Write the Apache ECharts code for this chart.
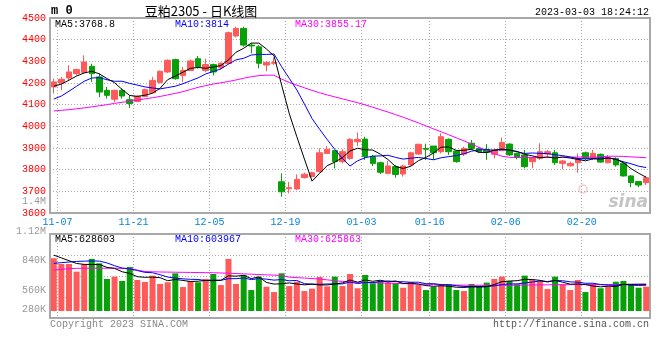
<!DOCTYPE html>
<html><head><meta charset="utf-8">
<script src="https://cdn.jsdelivr.net/npm/echarts@6/dist/echarts.min.js"></script>
<style>html,body{margin:0;padding:0;background:#fff}#c{width:660px;height:360px}</style>
</head><body><div id="c"></div>
<script>
// ---------- data ----------
const dates = [
 '11-07','11-08','11-09','11-10','11-11','11-14','11-15','11-16','11-17','11-18',
 '11-21','11-22','11-23','11-24','11-25','11-28','11-29','11-30','12-01','12-02',
 '12-05','12-06','12-07','12-08','12-09','12-12','12-13','12-14','12-15','12-16',
 '12-19','12-20','12-21','12-22','12-23','12-26','12-27','12-28','12-29','12-30',
 '01-03','01-04','01-05','01-06','01-09','01-10','01-11','01-12','01-13',
 '01-16','01-17','01-18','01-19','01-20','01-30','01-31','02-01','02-02','02-03',
 '02-06','02-07','02-08','02-09','02-10','02-13','02-14','02-15','02-16','02-17',
 '02-20','02-21','02-22','02-23','02-24','02-27','02-28','03-01','03-02','03-03'];
const opens = [
 4182,4200,4223,4243,4248,4277,4228,4166,4125,4166,
 4123,4115,4138,4155,4203,4251,4308,4235,4258,4312,
 4258,4285,4271,4290,4417,4452,4375,4367,4283,4291,
 3744,3712,3711,3763,3768,3791,3875,3888,3837,3852,
 3929,3941,3860,3832,3783,3814,3780,3822,3872,
 3898,3909,3883,3940,3886,3872,3922,3898,3894,3871,
 3888,3918,3875,3868,3837,3852,3872,3878,3829,3818,
 3832,3878,3852,3871,3832,3852,3829,3771,3745,3740];
const closes = [
 4205,4217,4251,4262,4297,4243,4158,4143,4166,4140,
 4105,4138,4169,4212,4254,4305,4220,4258,4302,4274,
 4285,4251,4291,4432,4452,4375,4371,4291,4295,4295,
 3698,3717,3755,3779,3786,3878,3894,3837,3883,3940,
 3940,3860,3829,3788,3817,3778,3817,3878,3917,
 3894,3878,3952,3883,3837,3898,3898,3883,3880,3891,
 3925,3868,3857,3814,3855,3883,3883,3832,3840,3829,
 3852,3852,3875,3835,3857,3822,3771,3740,3729,3763];
const lows = [
 4151,4166,4212,4235,4243,4205,4135,4128,4112,4128,
 4085,4112,4135,4151,4198,4246,4215,4205,4255,4266,
 4251,4235,4262,4286,4410,4368,4337,4268,4254,4283,
 3675,3691,3706,3760,3765,3786,3875,3806,3829,3845,
 3909,3845,3817,3780,3778,3763,3768,3817,3868,
 3845,3845,3875,3868,3832,3863,3891,3878,3845,3852,
 3888,3863,3848,3806,3806,3845,3857,3822,3802,3814,
 3786,3845,3845,3832,3829,3814,3768,3719,3719,3729];
const highs = [
 4220,4228,4282,4266,4328,4289,4243,4182,4169,4174,
 4143,4143,4174,4228,4258,4308,4312,4274,4308,4325,
 4312,4289,4296,4437,4460,4460,4383,4375,4300,4318,
 3783,3744,3778,3786,3791,3898,3909,3891,3894,3945,
 3971,3952,3868,3837,3841,3822,3822,3883,3920,
 3920,3909,3968,3945,3891,3906,3937,3903,3918,3898,
 3948,3922,3878,3891,3860,3922,3891,3891,3845,3837,
 3875,3883,3891,3875,3868,3857,3837,3775,3748,3771];
// moving-average values visible at the left edge (earlier data is off chart)
const ma5Head = [4185, 4195, 4213, 4232];
const ma10Head = [4126, 4140, 4162, 4185, 4208, 4223, 4225, 4215, 4208];
const ma30 = [
 4071,4074,4077,4081,4085,4090,4095,4100,4106,4111,
 4116,4121,4127,4132,4138,4145,4152,4160,4170,4180,
 4188,4195,4201,4207,4214,4222,4229,4234,4236,4236,
 4218,4203,4190,4178,4166,4155,4145,4136,4127,4118,
 4109,4099,4088,4077,4066,4054,4042,4029,4016,4002,
 3988,3975,3961,3947,3933,3918,3903,3888,3874,3862,
 3857,3856,3856,3856,3857,3857,3857,3857,3858,3858,
 3858,3858,3859,3862,3862,3861,3859,3857,3855];
// volume in thousands of lots
const volumes = [
 862,810,810,741,810,856,816,675,696,657,
 783,666,648,705,630,645,726,602,657,645,
 675,720,620,856,630,711,575,696,605,557,
 726,611,650,566,587,693,608,696,611,720,
 591,711,636,660,642,636,596,648,620,575,
 605,620,627,575,566,630,611,642,675,696,
 657,627,705,666,657,584,696,627,575,666,
 557,630,591,605,650,657,630,596,605];
const volMa5Head = [890, 865, 840, 815];
const volMa10Head = [816, 822, 828, 833, 836, 838, 836, 820, 795];
const volMa30 = [
 756,762,768,771,772,772,772,772,772,771,
 770,755,742,740,738,737,736,735,734,733,
 732,731,729,727,724,721,718,715,712,710,
 706,692,687,683,679,674,667,659,653,648,
 645,643,641,639,637,635,633,631,629,627,
 625,623,621,620,619,618,618,618,618,618,
 618,619,620,621,622,622,623,623,624,624,
 624,624,624,625,625,625,625,626,626];
const xTickLabels = ['11-07','11-21','12-05','12-19','01-03','01-16','02-06','02-20'];
const priceMin = 3600, priceMax = 4500, priceStep = 100;
const volTickLabels = ['1.12M', '840K', '560K', '280K'];
const volTopLabel = '1.4M';
const priceLegend = ['MA5:3768.8', 'MA10:3814', 'MA30:3855.17'];
const volLegend = ['MA5:628603', 'MA10:603967', 'MA30:625863'];
const symbolText = 'm 0';
const titleText = '豆粕2305 - 日K线图';
const stampText = '2023-03-03 18:24:12';
const copyText = 'Copyright 2023 SINA.COM';
const urlText = 'http://finance.sina.com.cn';

// ---------- build ----------
const RED = '#ff5a5a', GREEN = '#08a008';
const MA_COLORS = ['#000000', '#0000ff', '#ff00ff'];
const MONO = '"Liberation Mono", "DejaVu Sans Mono", monospace';
const GRIDC = '#aaaaaa';

function movingAvg(values, n, head) {
  return values.map(function (v, i) {
    if (i < n - 1) return head[i];
    let s = 0;
    for (let k = i - n + 1; k <= i; k++) s += values[k];
    return +(s / n).toFixed(2);
  });
}
const boundaries = [''].concat(dates); // slot boundaries: boundary k = right edge of candle k-1
const isTick = function (idx) { return xTickLabels.indexOf(boundaries[idx]) >= 0; };

const candleData = dates.map(function (d, i) { return [opens[i], closes[i], lows[i], highs[i]]; });
const volData = volumes.map(function (v, i) {
  return { value: v, itemStyle: { color: closes[i] >= opens[i] ? RED : GREEN } };
});

function lineSeries(data, color, xi, yi) {
  return { type: 'line', data: data, xAxisIndex: xi, yAxisIndex: yi, symbol: 'none', showSymbol: false,
    silent: true, lineStyle: { width: 1, color: color }, z: 5 };
}
function txt(text, x, y, color, align, font, extra) {
  return Object.assign({ type: 'text', x: x, y: y, silent: true, z: 100,
    style: { text: text, fill: color, font: font || ('10px ' + MONO),
      align: align || 'left', verticalAlign: 'middle', textAlign: align || 'left', textVerticalAlign: 'middle' } }, extra || {});
}

const dotted = { show: true, lineStyle: { color: GRIDC, width: 1, type: [1, 2] } };

const graphics = [
  { type: 'circle', shape: { cx: 583, cy: 189, r: 4 }, style: { fill: 'none', stroke: '#f6cccc', lineWidth: 1.5 }, z: 0, silent: true },
  txt('sina', 648, 203, '#c4c4c4', 'right', 'italic bold 17px "DejaVu Sans", sans-serif', { z: 0 }),
  txt(symbolText, 51, 11, '#000', 'left', 'bold 12px ' + MONO),
  txt(titleText, 201, 11, '#000', 'center', '13px "Noto Sans CJK SC", sans-serif'),
  txt(stampText, 649, 12, '#000', 'right'),
  txt(priceLegend[0], 55, 24, MA_COLORS[0]),
  txt(priceLegend[1], 175, 24, MA_COLORS[1]),
  txt(priceLegend[2], 295, 24, MA_COLORS[2]),
  txt(volLegend[0], 55, 239, MA_COLORS[0]),
  txt(volLegend[1], 175, 239, MA_COLORS[1]),
  txt(volLegend[2], 295, 239, MA_COLORS[2]),
  txt(volTopLabel, 46, 201, '#999', 'right'),
  txt(volTickLabels[0], 46, 231, '#999', 'right'),
  txt(volTickLabels[1], 46, 260, '#999', 'right'),
  txt(volTickLabels[2], 46, 290, '#999', 'right'),
  txt(volTickLabels[3], 46, 309.5, '#999', 'right'),
  txt(copyText, 50, 324, '#888', 'left'),
  txt(urlText, 649, 324, '#555', 'right')
];

const option = {
  animation: false,
  backgroundColor: '#fff',
  grid: [
    { left: 50, right: 10, top: 18, height: 195, show: true, borderColor: '#a8a8a8', borderWidth: 2, outerBoundsMode: 'none', containLabel: false },
    { left: 50, right: 10, top: 234, height: 77, show: false, outerBoundsMode: 'none', containLabel: false },
    { left: 50, right: 10, top: 234, height: 84, show: true, borderColor: '#a8a8a8', borderWidth: 2, outerBoundsMode: 'none', containLabel: false }
  ],
  xAxis: [
    { type: 'category', gridIndex: 0, data: dates, boundaryGap: true, show: false, position: 'bottom' },
    { type: 'category', gridIndex: 0, data: boundaries, boundaryGap: false, min: 0, max: boundaries.length - 1,
      position: 'bottom',
      axisLine: { show: false }, axisTick: { show: false },
      axisLabel: { show: true, interval: isTick, color: '#0a84d8', fontFamily: MONO, fontSize: 10, margin: 4 },
      splitLine: { show: true, interval: isTick, lineStyle: dotted.lineStyle } },
    { type: 'category', gridIndex: 1, data: dates, boundaryGap: true, show: false, position: 'bottom' },
    { type: 'category', gridIndex: 2, data: boundaries, boundaryGap: false, min: 0, max: boundaries.length - 1,
      position: 'bottom',
      axisLine: { show: false }, axisTick: { show: false }, axisLabel: { show: false },
      splitLine: { show: true, interval: isTick, lineStyle: dotted.lineStyle } }
  ],
  yAxis: [
    { type: 'value', gridIndex: 0, min: priceMin, max: priceMax, interval: priceStep,
      axisLine: { show: false }, axisTick: { show: false },
      axisLabel: { color: '#ff0000', fontFamily: MONO, fontSize: 10, margin: 4, padding: [0, 0, 3, 0],
        formatter: function (v) { return String(v); } },
      splitLine: dotted },
    { type: 'value', gridIndex: 1, min: 385.7, max: 1081, show: false, splitLine: { show: false } },
    { type: 'value', gridIndex: 2, min: 0, max: 4, interval: 1, axisLine: { show: false }, axisTick: { show: false },
      axisLabel: { show: false }, splitLine: dotted }
  ],
  graphic: graphics,
  series: [
    { type: 'candlestick', xAxisIndex: 0, yAxisIndex: 0, data: candleData, barWidth: 6, silent: true,
      itemStyle: { color: RED, color0: GREEN, borderColor: RED, borderColor0: GREEN, borderWidth: 1 } },
    lineSeries(ma30, MA_COLORS[2], 0, 0),
    lineSeries(movingAvg(closes, 10, ma10Head), MA_COLORS[1], 0, 0),
    lineSeries(movingAvg(closes, 5, ma5Head), MA_COLORS[0], 0, 0),
    { type: 'bar', xAxisIndex: 2, yAxisIndex: 1, data: volData, barWidth: 6, silent: true },
    lineSeries(volMa30, MA_COLORS[2], 2, 1),
    lineSeries(movingAvg(volumes, 10, volMa10Head), MA_COLORS[1], 2, 1),
    lineSeries(movingAvg(volumes, 5, volMa5Head), MA_COLORS[0], 2, 1)
  ]
};
const chart = echarts.init(document.getElementById('c'), null, { renderer: 'canvas' });
chart.setOption(option);
</script>
</body></html>
